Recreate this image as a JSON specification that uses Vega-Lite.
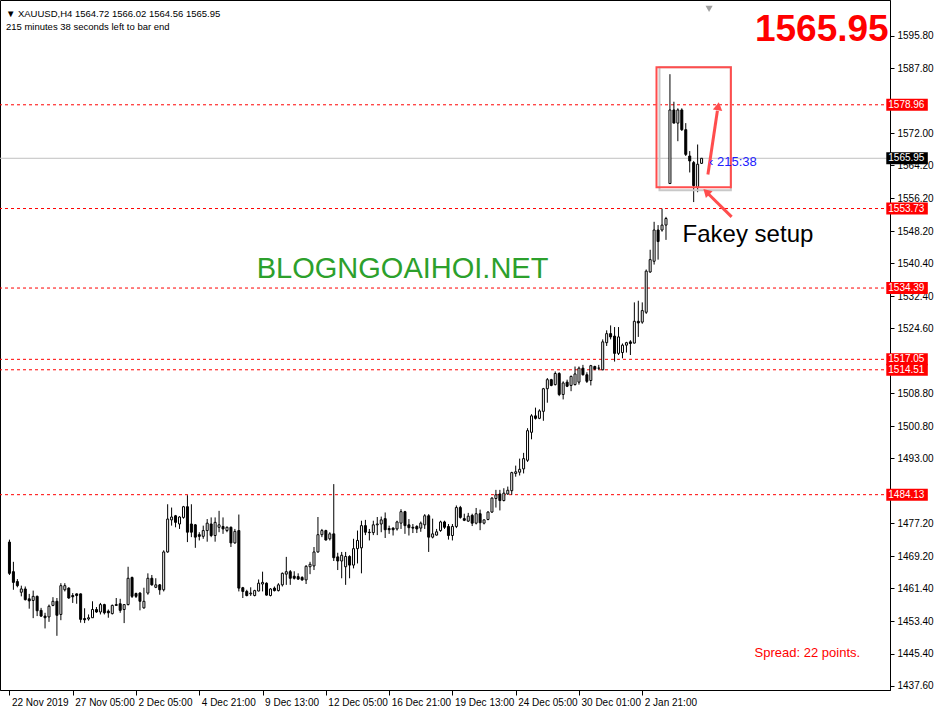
{
"$schema": "https://vega.github.io/schema/vega-lite/v6.json",
"width": 890, "height": 690, "padding": {"left": 0, "top": 0, "right": 50, "bottom": 27}, "autosize": {"type": "none"},
"background": "white",
"config": {"view": {"stroke": "black", "strokeWidth": 1}, "font": "Liberation Sans"},
"resolve": {"axis": {"x": "independent", "y": "independent"}},
"datasets": {
"bars": [
{"i":0,"o":1472.6,"h":1473.2,"l":1464.6,"c":1465.0},
{"i":1,"o":1465.4,"h":1467.8,"l":1461.0,"c":1462.8},
{"i":2,"o":1463.0,"h":1463.6,"l":1461.6,"c":1462.0},
{"i":3,"o":1460.4,"h":1462.0,"l":1459.4,"c":1461.2},
{"i":4,"o":1461.2,"h":1461.8,"l":1458.4,"c":1458.6},
{"i":5,"o":1458.8,"h":1460.0,"l":1456.4,"c":1458.3},
{"i":6,"o":1458.4,"h":1460.8,"l":1454.1,"c":1459.4},
{"i":7,"o":1459.4,"h":1459.6,"l":1454.6,"c":1455.9},
{"i":8,"o":1456.0,"h":1456.6,"l":1454.4,"c":1454.6},
{"i":9,"o":1454.6,"h":1455.4,"l":1451.6,"c":1454.2},
{"i":10,"o":1454.4,"h":1457.4,"l":1453.2,"c":1457.0},
{"i":11,"o":1457.2,"h":1459.2,"l":1457.0,"c":1458.2},
{"i":12,"o":1458.2,"h":1459.0,"l":1449.8,"c":1454.8},
{"i":13,"o":1455.0,"h":1462.6,"l":1453.6,"c":1462.0},
{"i":14,"o":1461.0,"h":1462.6,"l":1460.6,"c":1462.0},
{"i":15,"o":1461.4,"h":1461.6,"l":1458.8,"c":1459.0},
{"i":16,"o":1459.6,"h":1460.2,"l":1457.8,"c":1459.3},
{"i":17,"o":1460.0,"h":1460.1,"l":1457.6,"c":1459.6},
{"i":18,"o":1460.0,"h":1460.1,"l":1453.0,"c":1453.8},
{"i":19,"o":1454.0,"h":1456.5,"l":1452.9,"c":1453.7},
{"i":20,"o":1453.9,"h":1455.0,"l":1453.5,"c":1454.2},
{"i":21,"o":1454.2,"h":1458.2,"l":1454.2,"c":1456.2},
{"i":22,"o":1456.2,"h":1456.8,"l":1455.4,"c":1455.6},
{"i":23,"o":1455.6,"h":1457.8,"l":1455.0,"c":1457.4},
{"i":24,"o":1457.4,"h":1457.6,"l":1455.0,"c":1455.4},
{"i":25,"o":1455.8,"h":1456.2,"l":1454.2,"c":1455.4},
{"i":26,"o":1455.2,"h":1457.4,"l":1455.0,"c":1457.2},
{"i":27,"o":1457.4,"h":1459.0,"l":1457.2,"c":1457.2},
{"i":28,"o":1457.6,"h":1458.8,"l":1455.4,"c":1456.0},
{"i":29,"o":1456.2,"h":1457.4,"l":1452.9,"c":1457.4},
{"i":30,"o":1457.4,"h":1466.6,"l":1457.2,"c":1463.8},
{"i":31,"o":1464.0,"h":1464.2,"l":1459.0,"c":1459.4},
{"i":32,"o":1460.1,"h":1460.3,"l":1459.0,"c":1459.4},
{"i":33,"o":1460.2,"h":1460.4,"l":1456.0,"c":1458.2},
{"i":34,"o":1456.6,"h":1461.5,"l":1456.4,"c":1458.2},
{"i":35,"o":1460.2,"h":1465.0,"l":1459.8,"c":1463.8},
{"i":36,"o":1463.8,"h":1464.6,"l":1462.0,"c":1462.2},
{"i":37,"o":1461.6,"h":1463.8,"l":1461.4,"c":1462.2},
{"i":38,"o":1462.2,"h":1462.4,"l":1459.8,"c":1461.0},
{"i":39,"o":1461.0,"h":1470.6,"l":1460.6,"c":1470.2},
{"i":40,"o":1470.2,"h":1481.8,"l":1470.0,"c":1478.2},
{"i":41,"o":1478.0,"h":1481.0,"l":1476.6,"c":1478.7},
{"i":42,"o":1479.0,"h":1479.2,"l":1476.2,"c":1477.4},
{"i":43,"o":1477.0,"h":1478.9,"l":1475.8,"c":1478.7},
{"i":44,"o":1478.6,"h":1481.4,"l":1478.3,"c":1481.2},
{"i":45,"o":1481.2,"h":1484.0,"l":1472.6,"c":1475.0},
{"i":46,"o":1477.0,"h":1481.8,"l":1473.8,"c":1475.0},
{"i":47,"o":1476.8,"h":1477.0,"l":1471.2,"c":1473.8},
{"i":48,"o":1474.4,"h":1475.0,"l":1473.0,"c":1474.0},
{"i":49,"o":1474.0,"h":1476.6,"l":1473.4,"c":1475.4},
{"i":50,"o":1475.4,"h":1478.2,"l":1472.7,"c":1477.2},
{"i":51,"o":1477.0,"h":1478.6,"l":1473.8,"c":1474.2},
{"i":52,"o":1474.2,"h":1478.6,"l":1472.7,"c":1477.4},
{"i":53,"o":1476.2,"h":1480.2,"l":1475.0,"c":1476.8},
{"i":54,"o":1476.4,"h":1478.6,"l":1474.6,"c":1475.8},
{"i":55,"o":1475.4,"h":1476.4,"l":1475.0,"c":1476.2},
{"i":56,"o":1476.2,"h":1476.4,"l":1471.4,"c":1472.4},
{"i":57,"o":1472.4,"h":1475.8,"l":1472.2,"c":1475.2},
{"i":58,"o":1475.4,"h":1479.3,"l":1460.6,"c":1461.4},
{"i":59,"o":1461.5,"h":1461.7,"l":1459.0,"c":1460.6},
{"i":60,"o":1460.6,"h":1461.0,"l":1459.4,"c":1459.6},
{"i":61,"o":1460.0,"h":1461.6,"l":1459.5,"c":1460.2},
{"i":62,"o":1459.6,"h":1461.0,"l":1459.4,"c":1460.8},
{"i":63,"o":1460.7,"h":1463.5,"l":1460.6,"c":1462.6},
{"i":64,"o":1462.4,"h":1465.4,"l":1460.6,"c":1462.8},
{"i":65,"o":1462.6,"h":1462.8,"l":1459.6,"c":1459.7},
{"i":66,"o":1459.6,"h":1461.4,"l":1459.4,"c":1461.2},
{"i":67,"o":1461.4,"h":1461.8,"l":1460.6,"c":1460.8},
{"i":68,"o":1460.8,"h":1462.6,"l":1460.6,"c":1462.2},
{"i":69,"o":1462.2,"h":1465.2,"l":1461.8,"c":1465.0},
{"i":70,"o":1464.8,"h":1469.0,"l":1462.2,"c":1465.4},
{"i":71,"o":1465.4,"h":1465.8,"l":1462.2,"c":1463.8},
{"i":72,"o":1464.3,"h":1465.5,"l":1463.5,"c":1463.8},
{"i":73,"o":1464.2,"h":1465.0,"l":1463.4,"c":1463.6},
{"i":74,"o":1464.0,"h":1464.3,"l":1463.2,"c":1463.4},
{"i":75,"o":1463.4,"h":1467.0,"l":1462.4,"c":1466.7},
{"i":76,"o":1466.6,"h":1467.8,"l":1464.8,"c":1467.2},
{"i":77,"o":1466.8,"h":1471.4,"l":1465.8,"c":1470.2},
{"i":78,"o":1470.2,"h":1478.7,"l":1470.0,"c":1474.4},
{"i":79,"o":1474.4,"h":1475.8,"l":1473.8,"c":1475.4},
{"i":80,"o":1475.4,"h":1475.6,"l":1473.0,"c":1473.1},
{"i":81,"o":1473.4,"h":1475.0,"l":1473.0,"c":1474.6},
{"i":82,"o":1474.6,"h":1486.7,"l":1468.0,"c":1468.8},
{"i":83,"o":1469.0,"h":1470.0,"l":1465.8,"c":1468.0},
{"i":84,"o":1468.0,"h":1470.2,"l":1463.8,"c":1469.4},
{"i":85,"o":1466.6,"h":1470.2,"l":1462.2,"c":1469.1},
{"i":86,"o":1469.1,"h":1469.4,"l":1463.8,"c":1467.0},
{"i":87,"o":1467.0,"h":1473.4,"l":1466.2,"c":1471.0},
{"i":88,"o":1471.0,"h":1475.4,"l":1467.4,"c":1473.0},
{"i":89,"o":1471.2,"h":1477.8,"l":1465.0,"c":1476.6},
{"i":90,"o":1476.6,"h":1478.0,"l":1474.3,"c":1475.0},
{"i":91,"o":1475.0,"h":1475.8,"l":1473.0,"c":1474.9},
{"i":92,"o":1474.9,"h":1477.8,"l":1474.3,"c":1476.8},
{"i":93,"o":1476.8,"h":1478.7,"l":1474.3,"c":1477.0},
{"i":94,"o":1477.0,"h":1478.8,"l":1475.0,"c":1478.0},
{"i":95,"o":1478.3,"h":1479.8,"l":1473.6,"c":1475.6},
{"i":96,"o":1475.9,"h":1476.6,"l":1474.6,"c":1475.6},
{"i":97,"o":1476.0,"h":1476.2,"l":1474.2,"c":1475.6},
{"i":98,"o":1475.8,"h":1477.8,"l":1475.4,"c":1477.5},
{"i":99,"o":1477.2,"h":1480.6,"l":1475.8,"c":1480.0},
{"i":100,"o":1480.0,"h":1480.2,"l":1474.6,"c":1476.6},
{"i":101,"o":1476.8,"h":1478.2,"l":1474.2,"c":1476.1},
{"i":102,"o":1476.2,"h":1477.0,"l":1474.8,"c":1476.0},
{"i":103,"o":1476.4,"h":1476.7,"l":1474.8,"c":1475.8},
{"i":104,"o":1476.0,"h":1477.6,"l":1475.1,"c":1477.2},
{"i":105,"o":1476.8,"h":1479.4,"l":1475.8,"c":1479.0},
{"i":106,"o":1479.0,"h":1479.4,"l":1470.2,"c":1473.8},
{"i":107,"o":1473.8,"h":1478.3,"l":1473.5,"c":1474.6},
{"i":108,"o":1474.3,"h":1475.8,"l":1474.2,"c":1475.1},
{"i":109,"o":1475.4,"h":1477.8,"l":1475.1,"c":1477.5},
{"i":110,"o":1477.5,"h":1477.8,"l":1475.8,"c":1476.2},
{"i":111,"o":1476.4,"h":1477.0,"l":1473.2,"c":1474.2},
{"i":112,"o":1474.2,"h":1477.0,"l":1473.0,"c":1476.4},
{"i":113,"o":1476.4,"h":1481.5,"l":1476.0,"c":1481.0},
{"i":114,"o":1481.0,"h":1481.4,"l":1478.3,"c":1478.6},
{"i":115,"o":1478.3,"h":1479.5,"l":1477.7,"c":1477.9},
{"i":116,"o":1477.7,"h":1479.7,"l":1477.5,"c":1478.9},
{"i":117,"o":1479.1,"h":1479.5,"l":1476.5,"c":1477.2},
{"i":118,"o":1477.2,"h":1480.9,"l":1476.9,"c":1479.5},
{"i":119,"o":1479.5,"h":1480.5,"l":1475.5,"c":1477.3},
{"i":120,"o":1477.2,"h":1478.1,"l":1476.9,"c":1478.0},
{"i":121,"o":1478.1,"h":1480.1,"l":1477.9,"c":1479.9},
{"i":122,"o":1479.9,"h":1483.5,"l":1479.7,"c":1483.3},
{"i":123,"o":1483.2,"h":1485.3,"l":1481.0,"c":1484.1},
{"i":124,"o":1484.3,"h":1485.3,"l":1480.3,"c":1482.7},
{"i":125,"o":1482.7,"h":1485.7,"l":1482.5,"c":1484.5},
{"i":126,"o":1484.3,"h":1486.1,"l":1484.1,"c":1485.2},
{"i":127,"o":1485.1,"h":1489.7,"l":1484.1,"c":1489.5},
{"i":128,"o":1489.3,"h":1491.2,"l":1488.5,"c":1489.7},
{"i":129,"o":1489.6,"h":1492.9,"l":1488.8,"c":1490.3},
{"i":130,"o":1490.4,"h":1494.3,"l":1489.3,"c":1492.9},
{"i":131,"o":1492.5,"h":1500.3,"l":1492.1,"c":1499.7},
{"i":132,"o":1499.3,"h":1503.7,"l":1497.6,"c":1503.3},
{"i":133,"o":1503.3,"h":1505.3,"l":1502.4,"c":1502.7},
{"i":134,"o":1502.7,"h":1504.9,"l":1502.5,"c":1504.5},
{"i":135,"o":1504.4,"h":1510.1,"l":1502.1,"c":1509.9},
{"i":136,"o":1509.9,"h":1512.5,"l":1506.5,"c":1512.1},
{"i":137,"o":1512.1,"h":1512.3,"l":1510.5,"c":1510.7},
{"i":138,"o":1510.9,"h":1514.1,"l":1510.7,"c":1513.6},
{"i":139,"o":1513.6,"h":1513.9,"l":1508.1,"c":1508.5},
{"i":140,"o":1508.5,"h":1511.7,"l":1507.3,"c":1511.3},
{"i":141,"o":1511.5,"h":1512.1,"l":1510.3,"c":1510.5},
{"i":142,"o":1510.7,"h":1513.1,"l":1509.3,"c":1512.9},
{"i":143,"o":1510.9,"h":1515.3,"l":1510.7,"c":1513.5},
{"i":144,"o":1511.5,"h":1515.3,"l":1510.9,"c":1514.9},
{"i":145,"o":1514.9,"h":1515.7,"l":1513.1,"c":1513.3},
{"i":146,"o":1513.3,"h":1513.9,"l":1511.3,"c":1511.7},
{"i":147,"o":1511.9,"h":1515.7,"l":1510.7,"c":1515.5},
{"i":148,"o":1515.3,"h":1515.5,"l":1514.4,"c":1514.7},
{"i":149,"o":1514.9,"h":1515.7,"l":1514.4,"c":1514.9},
{"i":150,"o":1514.5,"h":1521.9,"l":1514.4,"c":1521.3},
{"i":151,"o":1521.1,"h":1524.1,"l":1520.3,"c":1523.3},
{"i":152,"o":1523.3,"h":1525.3,"l":1521.9,"c":1522.5},
{"i":153,"o":1522.7,"h":1524.9,"l":1516.5,"c":1518.5},
{"i":154,"o":1518.5,"h":1524.9,"l":1518.1,"c":1522.5},
{"i":155,"o":1518.7,"h":1520.9,"l":1517.3,"c":1520.5},
{"i":156,"o":1520.5,"h":1521.3,"l":1518.7,"c":1521.1},
{"i":157,"o":1521.3,"h":1521.7,"l":1518.1,"c":1520.9},
{"i":158,"o":1521.0,"h":1530.9,"l":1520.9,"c":1526.3},
{"i":159,"o":1526.3,"h":1531.3,"l":1522.5,"c":1525.9},
{"i":160,"o":1526.1,"h":1530.9,"l":1525.7,"c":1528.9},
{"i":161,"o":1528.5,"h":1538.9,"l":1528.1,"c":1538.5},
{"i":162,"o":1538.3,"h":1543.7,"l":1538.1,"c":1541.3},
{"i":163,"o":1540.9,"h":1550.5,"l":1540.1,"c":1548.5},
{"i":164,"o":1548.5,"h":1549.7,"l":1541.3,"c":1545.7},
{"i":165,"o":1548.5,"h":1553.7,"l":1548.1,"c":1549.7},
{"i":166,"o":1549.7,"h":1551.7,"l":1546.1,"c":1551.3},
{"i":167,"o":1559.8,"h":1586.4,"l":1559.7,"c":1577.7},
{"i":168,"o":1577.7,"h":1579.7,"l":1574.5,"c":1574.5},
{"i":169,"o":1574.5,"h":1578.1,"l":1570.1,"c":1577.7},
{"i":170,"o":1577.7,"h":1578.1,"l":1572.6,"c":1572.9},
{"i":171,"o":1572.9,"h":1574.5,"l":1566.5,"c":1566.9},
{"i":172,"o":1566.5,"h":1567.7,"l":1562.5,"c":1565.3},
{"i":173,"o":1564.9,"h":1565.3,"l":1555.3,"c":1559.3},
{"i":174,"o":1558.9,"h":1569.3,"l":1557.7,"c":1564.5},
{"i":175,"o":1564.72,"h":1566.02,"l":1564.56,"c":1565.95}
],
"levels": [{"p":1578.96},{"p":1553.73},{"p":1534.39},{"p":1517.05},{"p":1514.51},{"p":1484.13}]
},
"layer": [
{"data": {"name": "levels"},
 "mark": {"type": "rule", "color": "#ff0000", "strokeWidth": 1, "strokeDash": [3, 3]},
 "encoding": {
  "y": {"field": "p", "type": "quantitative",
   "scale": {"domain": [1437.84, 1603.23], "nice": false, "zero": false},
   "axis": {"orient": "right", "title": null, "grid": false,
    "values": [1595.8,1587.8,1572.0,1564.2,1556.2,1548.2,1540.4,1532.4,1524.6,1508.8,1500.8,1493.0,1477.2,1469.2,1461.4,1453.4,1445.4,1437.6],
    "format": ".2f", "labelAlign": "left", "labelBaseline": "middle", "labelFontSize": 10, "labelFont": "Liberation Sans",
    "labelColor": "black", "tickColor": "black", "domainColor": "black", "tickSize": 4, "labelPadding": 3,
    "labelOverlap": false, "labelBound": false, "labelFlush": false}}
 }},
{"data": {"values": [{"p": 1565.95}]},
 "mark": {"type": "rule", "color": "#c0c0c0", "strokeWidth": 1},
 "encoding": {"y": {"field": "p", "type": "quantitative", "scale": {"domain": [1437.84, 1603.23], "nice": false, "zero": false}, "axis": null}}},
{"data": {"name": "bars"},
 "mark": {"type": "rule", "color": "black", "strokeWidth": 1},
 "encoding": {
  "x": {"field": "i", "type": "quantitative",
   "scale": {"domain": [-1.125, 221.375], "nice": false, "zero": false},
   "axis": {"title": null, "grid": false, "values": [0,16,32,48,64,80,96,112,128,144,160],
    "labelExpr": "['22 Nov 2019','27 Nov 05:00','2 Dec 05:00','4 Dec 21:00','9 Dec 13:00','12 Dec 05:00','16 Dec 21:00','19 Dec 13:00','24 Dec 05:00','30 Dec 01:00','2 Jan 21:00'][round(datum.value/16)]",
    "labelAlign": "left", "labelOffset": 2, "labelFontSize": 10, "labelFont": "Liberation Sans", "labelColor": "black",
    "tickColor": "black", "domainColor": "black", "tickSize": 5, "labelPadding": 2,
    "labelOverlap": false, "labelBound": false, "labelFlush": false}},
  "y": {"field": "l", "type": "quantitative", "scale": {"domain": [1437.84, 1603.23], "nice": false, "zero": false}, "axis": null},
  "y2": {"field": "h"}
 }},
{"data": {"name": "bars"},
 "mark": {"type": "bar", "width": 2, "stroke": "black", "strokeWidth": 1},
 "encoding": {
  "x": {"field": "i", "type": "quantitative", "scale": {"domain": [-1.125, 221.375], "nice": false, "zero": false}, "axis": null},
  "y": {"field": "o", "type": "quantitative", "scale": {"domain": [1437.84, 1603.23], "nice": false, "zero": false}, "axis": null},
  "y2": {"field": "c"},
  "fill": {"condition": {"test": "datum.c >= datum.o", "value": "white"}, "value": "black"}
 }},
{"data": {"values": [{"p": 1578.96, "t": "1578.96"}, {"p": 1553.73, "t": "1553.73"}, {"p": 1534.39, "t": "1534.39"}, {"p": 1517.05, "t": "1517.05"}, {"p": 1514.51, "t": "1514.51"}, {"p": 1484.13, "t": "1484.13"}]},
 "layer": [
  {"mark": {"type": "bar", "height": 12, "color": "#ff0000"},
   "encoding": {
    "x": {"datum": 221.7, "type": "quantitative", "scale": {"domain": [-1.125, 221.375], "nice": false, "zero": false}, "axis": null},
    "x2": {"datum": 232.2},
    "y": {"field": "p", "type": "quantitative", "scale": {"domain": [1437.84, 1603.23], "nice": false, "zero": false}, "axis": null}}},
  {"mark": {"type": "text", "color": "white", "fontSize": 10, "font": "Liberation Sans", "align": "left", "baseline": "middle", "dx": 2},
   "encoding": {
    "x": {"datum": 221.7, "type": "quantitative", "scale": {"domain": [-1.125, 221.375], "nice": false, "zero": false}, "axis": null},
    "y": {"field": "p", "type": "quantitative", "scale": {"domain": [1437.84, 1603.23], "nice": false, "zero": false}, "axis": null},
    "text": {"field": "t"}}}
 ]},
{"data": {"values": [{"p": 1565.95, "t": "1565.95"}]},
 "layer": [
  {"mark": {"type": "bar", "height": 12, "color": "black"},
   "encoding": {
    "x": {"datum": 221.7, "type": "quantitative", "scale": {"domain": [-1.125, 221.375], "nice": false, "zero": false}, "axis": null},
    "x2": {"datum": 232.2},
    "y": {"field": "p", "type": "quantitative", "scale": {"domain": [1437.84, 1603.23], "nice": false, "zero": false}, "axis": null}}},
  {"mark": {"type": "text", "color": "white", "fontSize": 10, "font": "Liberation Sans", "align": "left", "baseline": "middle", "dx": 2},
   "encoding": {
    "x": {"datum": 221.7, "type": "quantitative", "scale": {"domain": [-1.125, 221.375], "nice": false, "zero": false}, "axis": null},
    "y": {"field": "p", "type": "quantitative", "scale": {"domain": [1437.84, 1603.23], "nice": false, "zero": false}, "axis": null},
    "text": {"field": "t"}}}
 ]},
{"data": {"values": [{"x1": 163.6, "x2": 182.4, "p1": 1558.9, "p2": 1588.1}]},
 "layer": [
  {"mark": {"type": "rect", "fill": "transparent", "stroke": "#c8c8c8", "strokeWidth": 2, "xOffset": 3, "yOffset": 3},
   "encoding": {
    "x": {"field": "x1", "type": "quantitative", "scale": {"domain": [-1.125, 221.375], "nice": false, "zero": false}, "axis": null},
    "x2": {"field": "x2"},
    "y": {"field": "p1", "type": "quantitative", "scale": {"domain": [1437.84, 1603.23], "nice": false, "zero": false}, "axis": null},
    "y2": {"field": "p2"}}},
  {"mark": {"type": "rect", "fill": "transparent", "stroke": "#ff4d4d", "strokeWidth": 2},
   "encoding": {
    "x": {"field": "x1", "type": "quantitative", "scale": {"domain": [-1.125, 221.375], "nice": false, "zero": false}, "axis": null},
    "x2": {"field": "x2"},
    "y": {"field": "p1", "type": "quantitative", "scale": {"domain": [1437.84, 1603.23], "nice": false, "zero": false}, "axis": null},
    "y2": {"field": "p2"}}}
 ]},
{"data": {"values": [{"x1": 176.6, "p1": 1562.0, "x2": 179.0, "p2": 1577.5}, {"x1": 182.6, "p1": 1551.7, "x2": 176.8, "p2": 1557.2}]},
 "mark": {"type": "rule", "color": "#ff4d4d", "strokeWidth": 3},
 "encoding": {
  "x": {"field": "x1", "type": "quantitative", "scale": {"domain": [-1.125, 221.375], "nice": false, "zero": false}, "axis": null},
  "x2": {"field": "x2"},
  "y": {"field": "p1", "type": "quantitative", "scale": {"domain": [1437.84, 1603.23], "nice": false, "zero": false}, "axis": null},
  "y2": {"field": "p2"}}},
{"data": {"values": [{"x": 179.2, "p": 1578.6}]},
 "mark": {"type": "point", "shape": "triangle-up", "filled": true, "color": "#ff4d4d", "size": 90, "angle": 9, "opacity": 1},
 "encoding": {
  "x": {"field": "x", "type": "quantitative", "scale": {"domain": [-1.125, 221.375], "nice": false, "zero": false}, "axis": null},
  "y": {"field": "p", "type": "quantitative", "scale": {"domain": [1437.84, 1603.23], "nice": false, "zero": false}, "axis": null}}},
{"data": {"values": [{"x": 176.2, "p": 1557.8}]},
 "mark": {"type": "point", "shape": "triangle-up", "filled": true, "color": "#ff4d4d", "size": 90, "angle": -45, "opacity": 1},
 "encoding": {
  "x": {"field": "x", "type": "quantitative", "scale": {"domain": [-1.125, 221.375], "nice": false, "zero": false}, "axis": null},
  "y": {"field": "p", "type": "quantitative", "scale": {"domain": [1437.84, 1603.23], "nice": false, "zero": false}, "axis": null}}},
{"data": {"values": [{"x": 176.9, "p": 1602.3}]},
 "mark": {"type": "point", "shape": "triangle-down", "filled": true, "color": "#a0a0a0", "size": 50, "opacity": 1},
 "encoding": {
  "x": {"field": "x", "type": "quantitative", "scale": {"domain": [-1.125, 221.375], "nice": false, "zero": false}, "axis": null},
  "y": {"field": "p", "type": "quantitative", "scale": {"domain": [1437.84, 1603.23], "nice": false, "zero": false}, "axis": null}}},
{"data": {"values": [{"x": -0.9, "p": 1601.1, "t": "▼ XAUUSD,H4  1564.72 1566.02 1564.56 1565.95"}, {"x": -0.9, "p": 1597.95, "t": "215 minutes 38 seconds left to bar end"}]},
 "mark": {"type": "text", "color": "black", "fontSize": 9.5, "font": "Liberation Sans", "align": "left", "baseline": "middle"},
 "encoding": {
  "x": {"field": "x", "type": "quantitative", "scale": {"domain": [-1.125, 221.375], "nice": false, "zero": false}, "axis": null},
  "y": {"field": "p", "type": "quantitative", "scale": {"domain": [1437.84, 1603.23], "nice": false, "zero": false}, "axis": null},
  "text": {"field": "t"}}},
{"data": {"values": [{"x": 222.3, "p": 1597.2, "t": "1565.95"}]},
 "mark": {"type": "text", "color": "#ff0000", "fontSize": 37, "fontWeight": "bold", "font": "Liberation Sans", "align": "right", "baseline": "middle"},
 "encoding": {
  "x": {"field": "x", "type": "quantitative", "scale": {"domain": [-1.125, 221.375], "nice": false, "zero": false}, "axis": null},
  "y": {"field": "p", "type": "quantitative", "scale": {"domain": [1437.84, 1603.23], "nice": false, "zero": false}, "axis": null},
  "text": {"field": "t"}}},
{"data": {"values": [{"x": 99.4, "p": 1539.0, "t": "BLOGNGOAIHOI.NET"}]},
 "mark": {"type": "text", "color": "#2ca02c", "fontSize": 29, "font": "Liberation Sans", "align": "center", "baseline": "middle"},
 "encoding": {
  "x": {"field": "x", "type": "quantitative", "scale": {"domain": [-1.125, 221.375], "nice": false, "zero": false}, "axis": null},
  "y": {"field": "p", "type": "quantitative", "scale": {"domain": [1437.84, 1603.23], "nice": false, "zero": false}, "axis": null},
  "text": {"field": "t"}}},
{"data": {"values": [{"x": 170.2, "p": 1547.4, "t": "Fakey setup"}]},
 "mark": {"type": "text", "color": "black", "fontSize": 24, "font": "Liberation Sans", "align": "left", "baseline": "middle"},
 "encoding": {
  "x": {"field": "x", "type": "quantitative", "scale": {"domain": [-1.125, 221.375], "nice": false, "zero": false}, "axis": null},
  "y": {"field": "p", "type": "quantitative", "scale": {"domain": [1437.84, 1603.23], "nice": false, "zero": false}, "axis": null},
  "text": {"field": "t"}}},
{"data": {"values": [{"x": 188.4, "p": 1445.7, "t": "Spread: 22 points."}]},
 "mark": {"type": "text", "color": "#ff0000", "fontSize": 13, "font": "Liberation Sans", "align": "left", "baseline": "middle"},
 "encoding": {
  "x": {"field": "x", "type": "quantitative", "scale": {"domain": [-1.125, 221.375], "nice": false, "zero": false}, "axis": null},
  "y": {"field": "p", "type": "quantitative", "scale": {"domain": [1437.84, 1603.23], "nice": false, "zero": false}, "axis": null},
  "text": {"field": "t"}}},
{"data": {"values": [{"x": 176.9, "p": 1565.1, "t": "‹ 215:38"}]},
 "mark": {"type": "text", "color": "#2020ff", "fontSize": 13, "font": "Liberation Sans", "align": "left", "baseline": "middle"},
 "encoding": {
  "x": {"field": "x", "type": "quantitative", "scale": {"domain": [-1.125, 221.375], "nice": false, "zero": false}, "axis": null},
  "y": {"field": "p", "type": "quantitative", "scale": {"domain": [1437.84, 1603.23], "nice": false, "zero": false}, "axis": null},
  "text": {"field": "t"}}}
]
}
